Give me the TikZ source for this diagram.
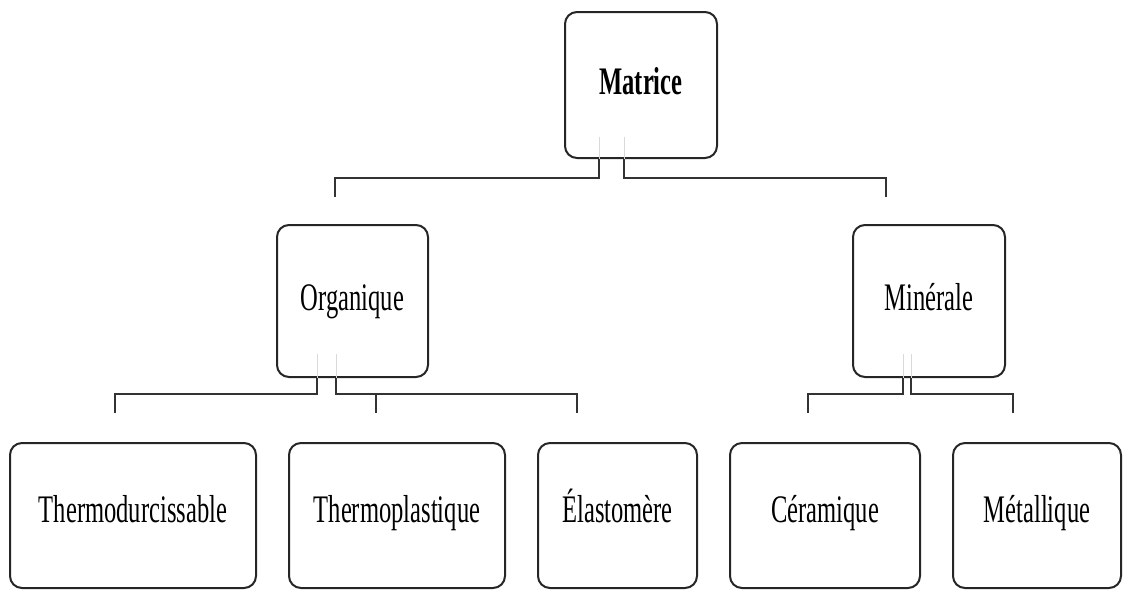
\documentclass[tikz,border=0pt]{standalone}
\usepackage{fontspec}
\setmainfont{Liberation Serif}[FakeStretch=0.63]
\begin{document}
\begin{tikzpicture}[x=1pt,y=-1pt,
  box/.style={draw=black!85,line width=2pt,rounded corners=12pt,fill=white,
    inner sep=0pt,text height=27pt,text depth=9pt,font=\fontsize{39}{44}\selectfont},
  conn/.style={draw=black!80,line width=2pt},
  faint/.style={draw=black!15,line width=1pt}]
\useasboundingbox (0,0) rectangle (1123,590);
% boxes
\node[box,minimum width=152pt,minimum height=146pt,font=\fontsize{39}{44}\selectfont\bfseries] (mat) at (641,85) {Matrice};
\node[box,minimum width=151pt,minimum height=152pt] (org) at (352.5,301) {Organique};
\node[box,minimum width=152pt,minimum height=152pt] (min) at (929,301) {Minérale};
\node[box,minimum width=246pt,minimum height=145pt,text depth=14pt] (thd) at (133,515.5) {Thermodurcissable};
\node[box,minimum width=216pt,minimum height=145pt,text depth=14pt] (thp) at (397,515.5) {Thermoplastique};
\node[box,minimum width=159pt,minimum height=145pt,text depth=14pt] (ela) at (617.5,515.5) {Élastomère};
\node[box,minimum width=190pt,minimum height=145pt,text depth=14pt] (cer) at (825,515.5) {Céramique};
\node[box,minimum width=168pt,minimum height=145pt,text depth=14pt] (met) at (1037,515.5) {Métallique};
% free ends
\coordinate (mL) at (335,197);
\coordinate (mR) at (886,197);
\coordinate (oL) at (115,413);
\coordinate (oR) at (577,413);
\coordinate (oMt) at (376,393);
\coordinate (oM) at (376,413);
\coordinate (nL) at (808,413);
\coordinate (nR) at (1013,413);
% faint inner lines
\draw[faint] ([xshift=-42pt]mat.south) -- ++(0,-22);
\draw[faint] ([xshift=-17pt]mat.south) -- ++(0,-22);
\draw[faint] ([xshift=-35.5pt]org.south) -- ++(0,-24);
\draw[faint] ([xshift=-16.5pt]org.south) -- ++(0,-24);
\draw[faint] ([xshift=-26pt]min.south) -- ++(0,-24);
\draw[faint] ([xshift=-18pt]min.south) -- ++(0,-24);
% connectors
\draw[conn] ([xshift=-42pt]mat.south) -- ++(0,19) -| (mL);
\draw[conn] ([xshift=-17pt]mat.south) -- ++(0,19) -| (mR);
\draw[conn] ([xshift=-35.5pt]org.south) -- ++(0,16) -| (oL);
\draw[conn] ([xshift=-16.5pt]org.south) -- ++(0,16) -| (oR);
\draw[conn] (oMt) -- (oM);
\draw[conn] ([xshift=-26pt]min.south) -- ++(0,16) -| (nL);
\draw[conn] ([xshift=-18pt]min.south) -- ++(0,16) -| (nR);
\end{tikzpicture}
\end{document}
